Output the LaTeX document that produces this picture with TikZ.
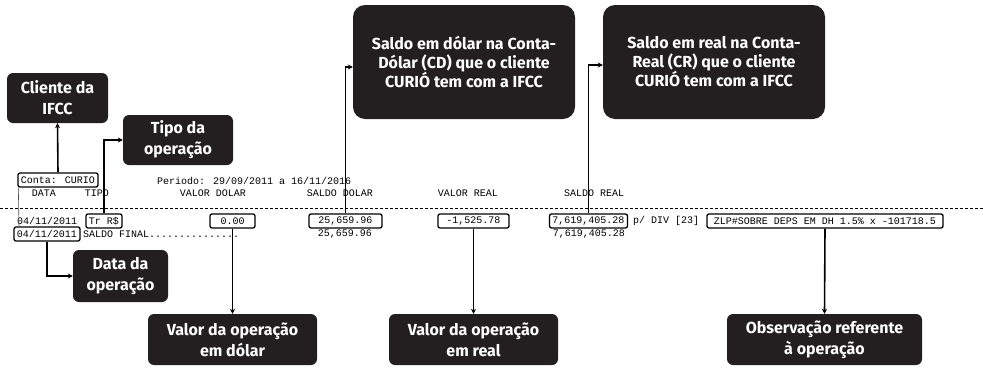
\documentclass[tikz,border=0pt]{standalone}
\usepackage{fontspec}
\setmainfont{Fira Sans}
\newfontfamily\printfont{Liberation Mono}
\usetikzlibrary{positioning,arrows.meta}

\definecolor{boxfill}{HTML}{231F20}
\tikzset{
  tag/.style={fill=boxfill, text=white, rounded corners=6pt, align=center,
    inner sep=0pt, font=\bfseries\fontsize{16}{21}\selectfont},
  bigtag/.style={tag, rounded corners=12pt, font=\bfseries\fontsize{16}{19}\selectfont},
  prt/.style={font=\printfont\fontsize{10}{12}\selectfont, inner sep=0pt, text=black},
  rec/.style={prt, draw=black, line width=1.3pt, rounded corners=2pt, inner xsep=3pt,
    minimum height=14pt},
  arr/.style={line width=1.6pt, -{Stealth[length=5pt,width=5pt]}}
}

\begin{document}
\begin{tikzpicture}[x=1pt,y=-1pt]
\useasboundingbox (0,0) rectangle (983,367);

\node[tag, minimum width=101pt, minimum height=50pt] (cliente) at (57.5,98) {Cliente da\\IFCC};
\node[tag, minimum width=110pt, minimum height=50pt] (tipo) at (178,140) {Tipo da\\operação};
\node[tag, minimum width=95pt, minimum height=52pt] (data) at (120.5,276) {Data da\\operação};
\node[tag, minimum width=169pt, minimum height=51pt] (vdolar) at (232.5,339.5) {Valor da operação\\em dólar};
\node[tag, minimum width=169pt, minimum height=51pt] (vreal) at (473.5,339.5) {Valor da operação\\em real};
\node[tag, minimum width=195pt, minimum height=51pt] (obs) at (824.5,339.5) {Observação referente\\à operação};
\node[bigtag, minimum width=222pt, minimum height=114pt] (sdolar) at (464,62) {Saldo em dólar na Conta-\\Dólar (CD) que o cliente\\CURIÓ tem com a IFCC};
\node[bigtag, minimum width=222pt, minimum height=114pt] (sreal) at (714,62) {Saldo em real na Conta-\\Real (CR) que o cliente\\CURIÓ tem com a IFCC};

\node[rec] (conta) at (58,180) {Conta: CURIO};
\node[prt, anchor=west] (periodo) at (157,181) {Periodo: 29/09/2011 a 16/11/2016};
\node[prt] (hdata) at (44,193) {DATA};
\node[prt] (htipo) at (97,193) {TIPO};
\node[prt] (hvdolar) at (213,193) {VALOR DOLAR};
\node[prt] (hsdolar) at (340,193) {SALDO DOLAR};
\node[prt] (hvreal) at (468,193) {VALOR REAL};
\node[prt] (hsreal) at (594,193) {SALDO REAL};
\draw[line width=1pt, dash pattern=on 3pt off 2pt] (0,208) -- (983,208);

\node[prt, anchor=west] (date1) at (17,221) {04/11/2011};
\node[rec] (tr) at (104,221) {Tr R\$};
\node[rec, minimum width=45pt] (zero) at (232.5,221) {0.00};
\node[rec, minimum width=73pt] (sd) at (345.5,221) {25,659.96};
\node[rec, minimum width=71pt] (vr) at (473.5,221) {-1,525.78};
\node[rec] (sr) at (588.5,221) {7,619,405.28};
\node[prt, anchor=west] (div) at (633,221) {p/ DIV [23]};
\node[rec, inner xsep=7pt] (zlp) at (825,221) {ZLP\#SOBRE DEPS EM DH 1.5\% x -101718.5};

\node[rec] (date2) at (47,234) {04/11/2011};
\node[prt, anchor=west] (final) at (83,234) {SALDO FINAL...............};
\node[prt] (sd2) at (345,234) {25,659.96};
\node[prt] (sr2) at (589,234) {7,619,405.28};

\draw[line width=0.6pt, black!70] (conta.south west) ++(1,0) -- (19,227);

\draw[arr] (conta.north) -- (cliente.south);
\draw[arr] (tr.north) |- (tipo.west);
\draw[arr] (date2.south) |- (data.west);
\draw[arr] (zero.south) -- (vdolar.north);
\draw[arr] (vr.south) -- (vreal.north);
\draw[arr] (zlp.south) -- (obs.north);
\draw[arr] (sd.north) |- ([yshift=-5pt]sdolar.west);
\draw[arr] (sr.north) |- ([yshift=-3pt]sreal.west);
\end{tikzpicture}
\end{document}
